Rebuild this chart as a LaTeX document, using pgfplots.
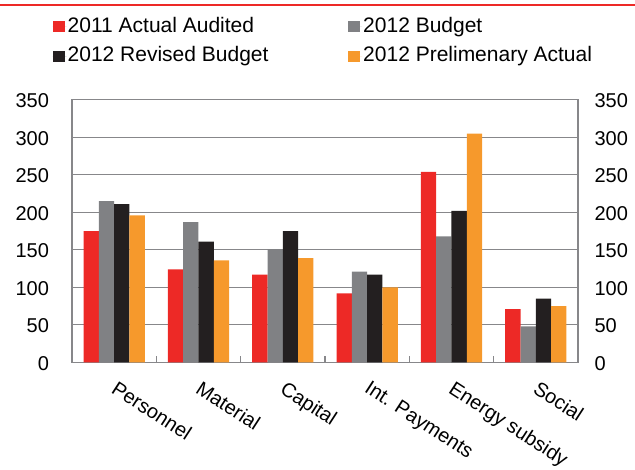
\documentclass[border=0pt]{standalone}
\usepackage{fontspec}
\setmainfont{Liberation Sans}
\usepackage{pgfplots}
\pgfplotsset{compat=1.18}
\definecolor{cred}{RGB}{237,41,38}
\definecolor{cgray}{RGB}{128,129,132}
\definecolor{cblack}{RGB}{35,31,32}
\definecolor{corange}{RGB}{246,153,44}
\definecolor{cgrid}{RGB}{135,135,138}
\begin{document}
\begin{tikzpicture}
\useasboundingbox (0,0) rectangle (635pt,470pt);
\draw[cred, line width=2.5pt] (0,465pt) -- (635pt,465pt);
\begin{axis}[
  at={(72pt,107.7pt)}, anchor=south west,
  scale only axis, width=506pt, height=262.5pt,
  ybar=0pt, bar width=15.3pt,
  xmin=-0.5, xmax=5.5, ymin=0, ymax=350,
  xtick={0,1,2,3,4,5},
  xticklabels={Personnel,Material,Capital,Int. Payments,Energy subsidy,Social},
  x tick label style={rotate=-33, anchor=north west, xshift=12.9pt, yshift=-12.5pt, font=\fontsize{20}{24}\selectfont, inner sep=0pt},
  xtick pos=bottom,
  major tick length=0pt,
  tick style={cgrid, line width=1.2pt},
  extra x ticks={0.5,1.5,2.5,3.5,4.5}, extra x tick labels={},
  extra x tick style={major tick length=6pt, tick align=inside, grid=none},
  ytick={0,50,...,350},
  /pgf/number format/assume math mode=true,
  ymajorgrids, grid style={cgrid, line width=1.3pt},
  axis line style={cgrid, line width=1.3pt},
  yticklabel style={font=\fontsize{20}{24}\selectfont, xshift=-19.5pt, yshift=-1pt},
  legend columns=2,
  legend cell align=left,
  legend style={at={(-0.0385,1.3354)}, anchor=north west, draw=none, fill=none, inner sep=0pt,
    font=\fontsize{21}{25}\selectfont,
    nodes={inner xsep=1pt, inner ysep=5.25pt, text height=15pt, text depth=4pt},
    /tikz/every even column/.append style={column sep=78.7pt}},
  legend image code/.code={\path (0pt,0pt) -- (14pt,0pt); \fill[#1] (0pt,-5.5pt) rectangle (12pt,5.5pt);},
]
\addplot[fill=cred, draw=none] coordinates {(0,175) (1,124) (2,117) (3,92) (4,254) (5,71)};
\addplot[fill=cgray, draw=none] coordinates {(0,215) (1,187) (2,151) (3,121) (4,168) (5,48)};
\addplot[fill=cblack, draw=none] coordinates {(0,211) (1,161) (2,175) (3,117) (4,202) (5,85)};
\addplot[fill=corange, draw=none] coordinates {(0,196) (1,136) (2,139) (3,100) (4,305) (5,75)};
\legend{2011 Actual Audited, 2012 Budget, 2012 Revised Budget, 2012 Prelimenary Actual}
\node[anchor=base west, inner sep=0pt, font=\fontsize{21}{25}\selectfont] at (axis description cs:-0.0105,1.0107) {IDR Trillion};
\node[anchor=base east, inner sep=0pt, font=\fontsize{21}{25}\selectfont] at (axis description cs:1.0,1.0107) {IDR Trillion};
\end{axis}
\begin{axis}[
  at={(72pt,107.7pt)}, anchor=south west,
  scale only axis, width=506pt, height=262.5pt,
  xmin=-0.5, xmax=5.5, ymin=0, ymax=350,
  hide x axis, axis y line*=right,
  ytick={0,50,...,350}, major tick length=0pt,
  /pgf/number format/assume math mode=true,
  axis line style={cgrid, line width=1.3pt},
  yticklabel style={font=\fontsize{20}{24}\selectfont, xshift=13pt, yshift=-1pt},
]
\addplot[draw=none] coordinates {(0,0)};
\end{axis}
\end{tikzpicture}
\end{document}
